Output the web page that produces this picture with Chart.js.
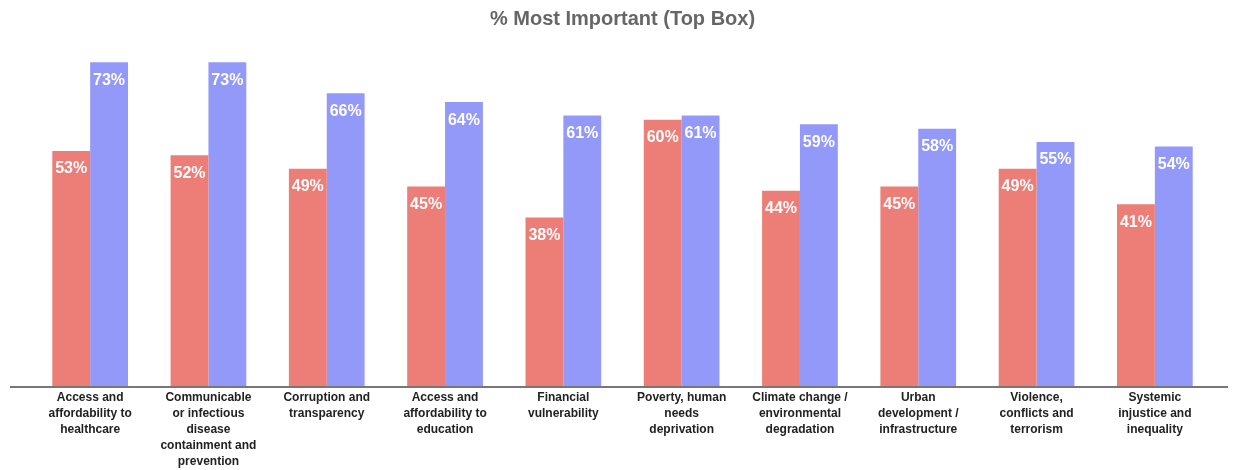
<!DOCTYPE html>
<html>
<head>
<meta charset="utf-8">
<script src="https://cdn.jsdelivr.net/npm/chart.js@4/dist/chart.umd.min.js"></script>
<style>
  body { margin: 0; background: #fff; }
  #wrap { width: 1238px; height: 470px; }
</style>
</head>
<body>
<div id="wrap"><canvas id="chart"></canvas></div>
<script>
var categories = [
  ['Access and', 'affordability to', 'healthcare'],
  ['Communicable', 'or infectious', 'disease', 'containment and', 'prevention'],
  ['Corruption and', 'transparency'],
  ['Access and', 'affordability to', 'education'],
  ['Financial', 'vulnerability'],
  ['Poverty, human', 'needs', 'deprivation'],
  ['Climate change /', 'environmental', 'degradation'],
  ['Urban', 'development /', 'infrastructure'],
  ['Violence,', 'conflicts and', 'terrorism'],
  ['Systemic', 'injustice and', 'inequality']
];
var seriesA = [53, 52, 49, 45, 38, 60, 44, 45, 49, 41];
var seriesB = [73, 73, 66, 64, 61, 61, 59, 58, 55, 54];

// white % labels near the top of each bar
var barLabels = {
  id: 'barLabels',
  afterDatasetsDraw: function (chart) {
    var ctx = chart.ctx;
    ctx.save();
    ctx.font = 'bold 16px "Liberation Sans", Arial, sans-serif';
    ctx.fillStyle = '#ffffff';
    ctx.textAlign = 'center';
    ctx.textBaseline = 'middle';
    chart.data.datasets.forEach(function (ds, i) {
      var meta = chart.getDatasetMeta(i);
      meta.data.forEach(function (bar, j) {
        ctx.fillText(ds.data[j] + '%', bar.x, bar.y + 18);
      });
    });
    ctx.restore();
  }
};

// baseline wider than the plot area
var baseLine = {
  id: 'baseLine',
  afterDatasetsDraw: function (chart) {
    var ctx = chart.ctx;
    var y = chart.scales.y.getPixelForValue(0);
    ctx.save();
    ctx.strokeStyle = '#777777';
    ctx.lineWidth = 2;
    ctx.beginPath();
    ctx.moveTo(10, y + 1);
    ctx.lineTo(1228, y + 1);
    ctx.stroke();
    ctx.restore();
  }
};

new Chart(document.getElementById('chart'), {
  type: 'bar',
  data: {
    labels: categories,
    datasets: [
      {
        label: 'A',
        data: seriesA,
        backgroundColor: '#ED7D77',
        categoryPercentage: 0.64,
        barPercentage: 1.0
      },
      {
        label: 'B',
        data: seriesB,
        backgroundColor: '#9399F9',
        categoryPercentage: 0.64,
        barPercentage: 1.0
      }
    ]
  },
  options: {
    responsive: true,
    maintainAspectRatio: false,
    animation: false,
    layout: { padding: { left: 31, right: 24, top: 7, bottom: 0 } },
    plugins: {
      legend: { display: false },
      tooltip: { enabled: false },
      title: {
        display: true,
        text: '% Most Important (Top Box)',
        color: '#666666',
        font: { family: '"Liberation Sans", Arial, sans-serif', size: 20, weight: 'bold' },
        padding: { top: 0, bottom: 9 }
      }
    },
    scales: {
      x: {
        grid: { display: false, drawTicks: false },
        border: { display: false },
        afterFit: function (scale) { scale.height = 84; },
        ticks: {
          color: '#222222',
          maxRotation: 0,
          autoSkip: false,
          padding: 4,
          font: { family: '"Liberation Sans", Arial, sans-serif', size: 12, weight: 'bold', lineHeight: 1.33 }
        }
      },
      y: {
        display: false,
        min: 0,
        max: 78
      }
    }
  },
  plugins: [barLabels, baseLine]
});
</script>
</body>
</html>
